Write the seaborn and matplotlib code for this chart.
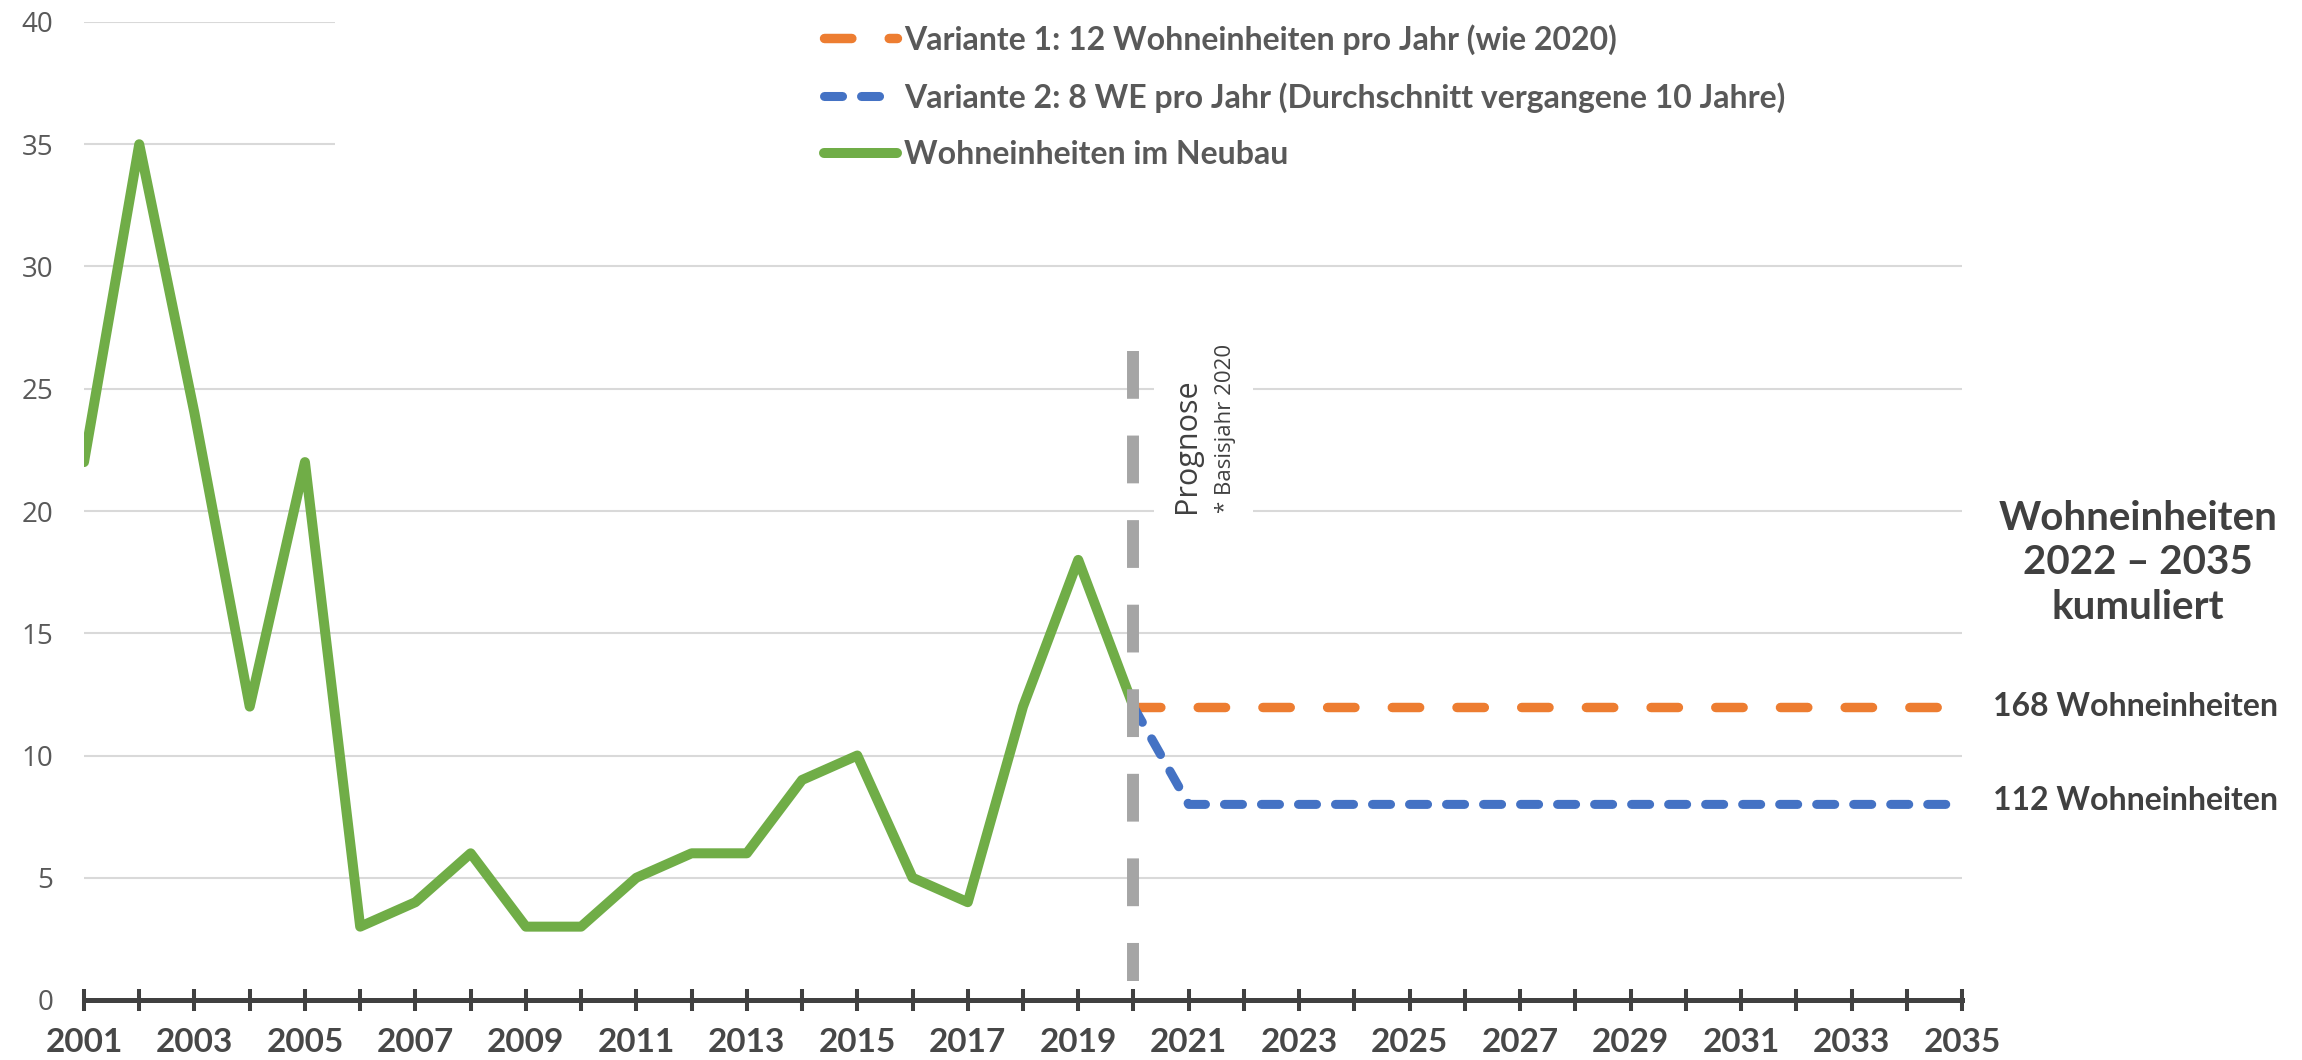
import matplotlib
matplotlib.use("Agg")
import matplotlib.pyplot as plt
import matplotlib.patches as mpatches
import seaborn as sns
import pandas as pd

# values
years_hist = [2001, 2002, 2003, 2004, 2005, 2006, 2007, 2008, 2009, 2010,
              2011, 2012, 2013, 2014, 2015, 2016, 2017, 2018, 2019, 2020]
neubau = [22, 35, 24, 12, 22, 3, 4, 6, 3, 3, 5, 6, 6, 9, 10, 5, 4, 12, 18, 12]

years_prog = [2020, 2021, 2022, 2023, 2024, 2025, 2026, 2027,
              2028, 2029, 2030, 2031, 2032, 2033, 2034, 2035]
variante_1 = [12, 12, 12, 12, 12, 12, 12, 12, 12, 12, 12, 12, 12, 12, 12, 12]
variante_2 = [12, 8, 8, 8, 8, 8, 8, 8, 8, 8, 8, 8, 8, 8, 8, 8]

prognose_year = 2020
x_ticks = list(range(2001, 2036))
x_labels = [str(y) if y % 2 == 1 else "" for y in x_ticks]
y_ticks = [0, 5, 10, 15, 20, 25, 30, 35, 40]

label_v1 = "Variante 1: 12 Wohneinheiten pro Jahr (wie 2020)"
label_v2 = "Variante 2: 8 WE pro Jahr (Durchschnitt vergangene 10 Jahre)"
label_neubau = "Wohneinheiten im Neubau"
kum_title = "Wohneinheiten\n2022 – 2035\nkumuliert"
kum_v1 = "168 Wohneinheiten"
kum_v2 = "112 Wohneinheiten"

W, H = 2302, 1060
TXT = "#595959"
DARK = "#404040"

sns.set_style("white")
plt.rcParams["font.family"] = ["Lato", "DejaVu Sans"]

fig = plt.figure(figsize=(W / 100, H / 100), dpi=100)
ax = fig.add_axes([84 / W, 60 / H, (1962 - 84) / W, (1000 - 22) / H])

hist = pd.DataFrame({"Jahr": years_hist, "WE": neubau})
prog = pd.DataFrame({"Jahr": years_prog, "V1": variante_1, "V2": variante_2})

sns.lineplot(data=prog, x="Jahr", y="V1", ax=ax, color="#ED7D31", linewidth=6.8,
             linestyle=(0, (2.9, 3.95)), dash_capstyle="round", label=label_v1, zorder=3)
sns.lineplot(data=prog, x="Jahr", y="V2", ax=ax, color="#4472C4", linewidth=6.5,
             linestyle=(0, (2.0, 2.1)), dash_capstyle="round", label=label_v2, zorder=3)
sns.lineplot(data=hist, x="Jahr", y="WE", ax=ax, color="#70AD47", linewidth=7.2,
             solid_capstyle="round", solid_joinstyle="round", label=label_neubau, zorder=4)

# Prognose marker line
ax.plot([prognose_year, prognose_year], [26.55, 0.78], color="#A5A5A5", linewidth=8.6,
        linestyle=(0, (4.0, 3.08)), dash_capstyle="butt", zorder=5, label="_nolegend_")

ax.set_xlim(2001, 2035)
ax.set_ylim(0, 40)
ax.set_xticks(x_ticks)
ax.set_xticklabels(x_labels, fontweight="bold", fontsize=24)
ax.set_yticks(y_ticks)
ax.set_yticklabels([str(v) for v in y_ticks], fontfamily="Open Sans", fontsize=20)
ax.set_xlabel("")
ax.set_ylabel("")

ax.grid(axis="y", color="#D9D9D9", linewidth=1.5)
ax.grid(axis="x", visible=False)
ax.set_axisbelow(True)

# white boxes behind legend and Prognose label (hide gridlines like the original)
ax.add_patch(mpatches.Rectangle((2005.55, 32.5), 40, 9, facecolor="white",
                                edgecolor="none", zorder=1))
ax.add_patch(mpatches.Rectangle((2020.37, 19.3), 1.79, 8.2, facecolor="white",
                                edgecolor="none", zorder=1))

for s in ["left", "top", "right"]:
    ax.spines[s].set_visible(False)
ax.spines["bottom"].set_color(DARK)
ax.spines["bottom"].set_linewidth(3.6)
ax.tick_params(axis="x", bottom=True, direction="inout", length=15.8, width=2.9,
               color=DARK, pad=12, labelcolor="#474747")
ax.tick_params(axis="y", left=False, length=0, pad=22, labelcolor=TXT)

handles, labels = ax.get_legend_handles_labels()
order = [labels.index(label_v1), labels.index(label_v2), labels.index(label_neubau)]
ax.legend([handles[i] for i in order], [labels[i] for i in order],
          loc="upper left", bbox_to_anchor=(824 / W, 1 - 24 / H),
          bbox_transform=fig.transFigure, frameon=False, borderpad=0,
          borderaxespad=0, handlelength=2.3, handletextpad=0.2, labelspacing=0.85,
          prop={"family": "Lato", "weight": "bold", "size": 23}, labelcolor=TXT)

fig.text(1187 / W, 1 - 513 / H, "Prognose", rotation=90, ha="center", va="bottom",
         fontsize=22, fontfamily="Open Sans", color=DARK)
fig.text(1226 / W, 1 - 513 / H, "* Basisjahr 2020", rotation=90, ha="center",
         va="bottom", fontsize=16, fontfamily="Open Sans", color=DARK)

fig.text(2138 / W, 1 - 563 / H, kum_title, ha="center", va="center",
         multialignment="center", fontsize=29, fontweight="bold", color=DARK,
         linespacing=1.25)
fig.text(1993 / W, 1 - 707 / H, kum_v1, ha="left", va="center", fontsize=23,
         fontweight="bold", color=DARK)
fig.text(1993 / W, 1 - 800 / H, kum_v2, ha="left", va="center", fontsize=23,
         fontweight="bold", color=DARK)

fig.savefig("out.png", dpi=100)
